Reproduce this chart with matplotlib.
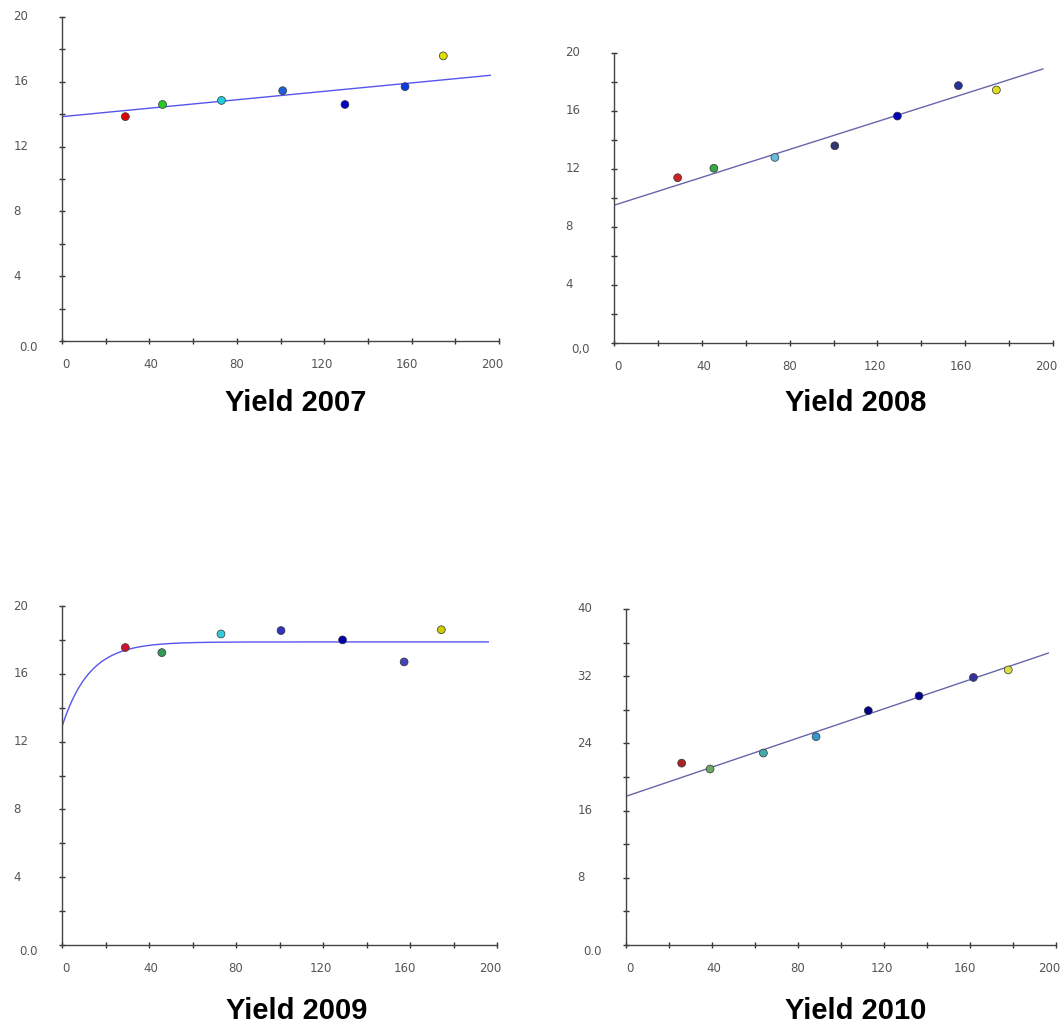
import numpy as np
import matplotlib.pyplot as plt


# =====================
# data

# ---- Yield 2007
x_2007 = [29.0, 46.0, 73.0, 101.0, 129.5, 157.0, 174.5]
y_2007 = [13.85, 14.6, 14.85, 15.45, 14.6, 15.7, 17.6]
col_2007 = ['#dd0000', '#22cc22', '#22ccdd', '#1a60d6', '#0000cc', '#0a3ee0', '#dddd00']
fit_x_2007 = [0, 196]
fit_y_2007 = [13.85, 16.4]

# ---- Yield 2008
x_2008 = [29.0, 45.5, 73.3, 100.6, 129.1, 156.9, 174.2]
y_2008 = [11.4, 12.05, 12.8, 13.6, 15.65, 17.75, 17.45]
col_2008 = ['#cc2222', '#33aa44', '#66bbdd', '#333377', '#0000bb', '#223399', '#dddd22']
fit_x_2008 = [0, 195.4]
fit_y_2008 = [9.5, 18.9]

# ---- Yield 2009 (fitted curve: plateau - drop * exp(-rate * x))
x_2009 = [29.1, 45.9, 73.1, 100.7, 129.0, 157.3, 174.4]
y_2009 = [17.55, 17.25, 18.35, 18.55, 18.0, 16.7, 18.6]
col_2009 = ['#cc1133', '#339955', '#33ccdd', '#3333bb', '#0000aa', '#4444bb', '#cccc00']
plateau_2009 = 17.88
drop_2009 = 5.0
rate_2009 = 0.08

# ---- Yield 2010
x_2010 = [25.9, 39.1, 63.9, 88.4, 112.7, 136.3, 161.6, 177.8]
y_2010 = [21.65, 20.95, 22.85, 24.8, 27.9, 29.65, 31.85, 32.75]
col_2010 = ['#aa2222', '#66aa66', '#44aaaa', '#3399cc', '#000088', '#000099', '#333399', '#dddd44']
fit_x_2010 = [0, 196.4]
fit_y_2010 = [17.7, 34.75]

ylabels_2007 = ['0.0', '4', '8', '12', '16', '20']
ylabels_2008 = ['0,0', '4', '8', '12', '16', '20']
ylabels_2009 = ['0.0', '4', '8', '12', '16', '20']
ylabels_2010 = ['0.0', '8', '16', '24', '32', '40']
xlabels = ['0', '40', '80', '120', '160', '200']


# =====================
# helpers

def setup_axes(ax, ymax, ylabels):
    ax.set_xlim(0, 200)
    ax.set_ylim(0, ymax)
    for s in ['top', 'right']:
        ax.spines[s].set_visible(False)
    for s in ['left', 'bottom']:
        ax.spines[s].set_color('#444444')
        ax.spines[s].set_linewidth(1.0)
    ax.set_xticks(np.arange(0, 201, 20))
    ax.set_yticks(np.linspace(0, ymax, 11))
    ax.set_xticklabels([])
    ax.set_yticklabels([])
    ax.tick_params(direction='inout', length=5, width=1, color='#333333')
    for t in ax.get_xticklines() + ax.get_yticklines():
        t.set_clip_on(False)

    # y labels, left aligned far from the axis
    yvals = np.linspace(0, ymax, len(ylabels))
    for v, s in zip(yvals, ylabels):
        if v == 0:
            off = (-31, -5)
        else:
            off = (-35, 0)
        ax.annotate(s, xy=(0, v), xycoords=('axes fraction', 'data'),
                    xytext=off, textcoords='offset points',
                    ha='left', va='center', fontsize=8.5, color='#555555')
    # x labels
    for i, s in enumerate(xlabels):
        v = 40 * i
        dx = (4 - 11 * v / 200.0) * 0.72
        ax.annotate(s, xy=(v, 0), xycoords=('data', 'axes fraction'),
                    xytext=(dx, -17), textcoords='offset points',
                    ha='center', va='center', fontsize=8.5, color='#555555')


def draw_points(ax, xs, ys, cols):
    ax.scatter(xs, ys, c=cols, s=32, edgecolors='#333333', linewidths=0.5,
               zorder=3, clip_on=False)


# =====================
# figure

fig = plt.figure(figsize=(10.6, 10.27), dpi=100)
W, H = 1060.0, 1027.0

def px_axes(x0, x1, ytop, ybot):
    return fig.add_axes([x0 / W, 1 - ybot / H, (x1 - x0) / W, (ybot - ytop) / H])

ax1 = px_axes(62, 499, 17, 341)
ax2 = px_axes(614, 1053, 53, 343)
ax3 = px_axes(62, 497, 606, 945)
ax4 = px_axes(626, 1056, 609, 945)

# 2007
setup_axes(ax1, 20, ylabels_2007)
ax1.plot(fit_x_2007, fit_y_2007, color='#5555ee', lw=1.0, zorder=2)
draw_points(ax1, x_2007, y_2007, col_2007)

# 2008
setup_axes(ax2, 20, ylabels_2008)
ax2.plot(fit_x_2008, fit_y_2008, color='#6666aa', lw=1.0, zorder=2)
draw_points(ax2, x_2008, y_2008, col_2008)

# 2009
setup_axes(ax3, 20, ylabels_2009)
xc = np.linspace(0, 196, 300)
ax3.plot(xc, plateau_2009 - drop_2009 * np.exp(-rate_2009 * xc), color='#5555ee', lw=1.0, zorder=2)
draw_points(ax3, x_2009, y_2009, col_2009)

# 2010
setup_axes(ax4, 40, ylabels_2010)
ax4.plot(fit_x_2010, fit_y_2010, color='#6666aa', lw=1.0, zorder=2)
draw_points(ax4, x_2010, y_2010, col_2010)

# titles
titles = ['Yield 2007', 'Yield 2008', 'Yield 2009', 'Yield 2010']
title_pos = [(296, 403), (856, 403), (297, 1011), (856, 1011)]
for t, (px, py) in zip(titles, title_pos):
    fig.text(px / W, 1 - py / H, t, ha='center', va='center',
             fontsize=21, fontweight='bold', family='Liberation Sans')

plt.savefig('out.png', dpi=100)
